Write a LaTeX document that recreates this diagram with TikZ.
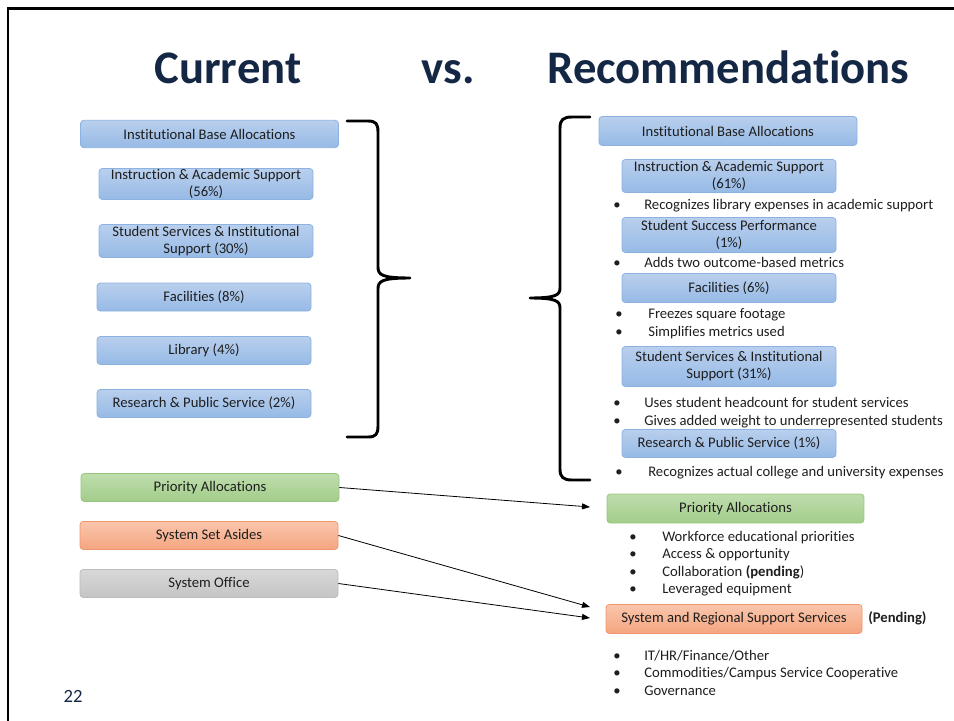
\documentclass[tikz,border=0pt]{standalone}
\usepackage{fontspec}
\setmainfont{Carlito}[Ligatures=NoCommon]
\usetikzlibrary{arrows.meta}

\definecolor{navy}{RGB}{20,39,68}
\definecolor{ink}{RGB}{30,30,30}
\definecolor{bluetop}{RGB}{185,207,237}
\definecolor{bluebot}{RGB}{150,186,230}
\definecolor{blueline}{RGB}{140,178,225}
\definecolor{greentop}{RGB}{190,221,172}
\definecolor{greenbot}{RGB}{163,205,139}
\definecolor{greenline}{RGB}{152,198,128}
\definecolor{orangetop}{RGB}{250,198,172}
\definecolor{orangebot}{RGB}{244,165,128}
\definecolor{orangeline}{RGB}{240,150,108}
\definecolor{greytop}{RGB}{216,216,216}
\definecolor{greybot}{RGB}{196,196,196}
\definecolor{greyline}{RGB}{188,188,188}

\tikzset{
  box/.style={rounded corners=2.5pt, draw=#1line, line width=0.6pt,
    top color=#1top, bottom color=#1bot, inner sep=0pt, align=center,
    text=ink, font=\fontsize{11}{12.8}\selectfont},
  widebox/.style={box=#1, minimum width=193.5pt, minimum height=21pt},
  smallbox/.style={box=blue, minimum width=160.5pt, minimum height=21pt},
  bracket/.style={line width=2.2pt, line cap=round, line join=round},
  bullettext/.style={anchor=base west, inner sep=0pt, text=ink, font=\fontsize{11}{13}\selectfont},
  feed/.style={line width=0.6pt, -{Triangle[length=6pt,width=4.5pt]}}
}

\begin{document}
\begin{tikzpicture}[x=0.75pt,y=-0.75pt]
  \useasboundingbox (0,0) rectangle (954,721);
  % frame of the slide
  \draw [line width=2.2pt] (8,721) -- (8,8.5) -- (954,8.5);

  % heading
  \node (cur) at (228,83) [anchor=base, text=navy, font=\fontsize{35}{40}\bfseries\selectfont] {Current};
  \node (vs) at (448,83) [anchor=base, text=navy, font=\fontsize{35}{40}\bfseries\selectfont] {vs.};
  \node (rec) at (728.5,83) [anchor=base, text=navy, font=\fontsize{35}{40}\bfseries\selectfont] {Recommendations};

  % current model
  \node (lbase) at (209.5,134) [widebox=blue, minimum height=20.5pt] {Institutional Base Allocations};
  \node (linstr) at (206,184) [smallbox, minimum height=23.25pt] {Instruction \& Academic Support\\(56\%)};
  \node (lstud) at (206,241) [smallbox, minimum height=24.75pt] {Student Services \& Institutional\\Support (30\%)};
  \node (lfac) at (204,297) [smallbox] {Facilities (8\%)};
  \node (llib) at (204,350.5) [smallbox] {Library (4\%)};
  \node (lres) at (204,403.5) [smallbox] {Research \& Public Service (2\%)};

  \node (lprio) at (210,487.5) [widebox=green] {Priority Allocations};
  \node (lset) at (209,535.5) [widebox=orange] {System Set Asides};
  \node (loff) at (209,583.5) [widebox=grey] {System Office};

  \draw [bracket] (347,121) -- (368,121) .. controls (376,121) and (378,124) .. (378,132)
    -- (378,267) .. controls (378,275) and (382,278) .. (410,278)
    .. controls (382,278) and (378,281) .. (378,289)
    -- (378,426) .. controls (378,434) and (376,437) .. (368,437) -- (347,437);

  % recommended model
  \node (rbase) at (728,131) [widebox=blue, minimum height=21.75pt] {Institutional Base Allocations};
  \node (rinstr) at (729,176) [smallbox, minimum height=24.75pt] {Instruction \& Academic Support\\(61\%)};
  \node (rsucc) at (729,235) [smallbox, minimum height=26.25pt] {Student Success Performance\\(1\%)};
  \node (rfac) at (729,288) [smallbox, minimum height=21.75pt] {Facilities (6\%)};
  \node (rstud) at (729,366.5) [smallbox, minimum height=30pt] {Student Services \& Institutional\\Support (31\%)};
  \node (rres) at (729,443.5) [smallbox] {Research \& Public Service (1\%)};

  \node (rprio) at (735.5,508.5) [widebox=green, minimum width=192.75pt, minimum height=21.75pt] {Priority Allocations};
  \node (rsys) at (734,619) [widebox=orange, minimum width=192pt, minimum height=21.75pt] {System and Regional Support Services};
  \node (pend) at (868,622.5) [bullettext, font=\fontsize{11}{13}\bfseries\selectfont] {(Pending)};

  \draw [bracket] (590,117) -- (572,117) .. controls (563,117) and (560,120) .. (560,128)
    -- (560,288) .. controls (560,295) and (556,298) .. (530,298)
    .. controls (556,298) and (560,301) .. (560,308)
    -- (560,469) .. controls (560,477) and (563,480) .. (572,480) -- (590,480);

  % notes under the boxes
  \foreach \xb/\xt/\y/\txt in {617/644/209/{Recognizes library expenses in academic support},
      617/644/267/{Adds two outcome-based metrics},
      619/648/318/{Freezes square footage},
      619/648/336/{Simplifies metrics used},
      617/644/407/{Uses student headcount for student services},
      617/644/425/{Gives added weight to underrepresented students},
      619/648/476/{Recognizes actual college and university expenses},
      633/662/541/{Workforce educational priorities},
      633/662/558/{Access \& opportunity},
      633/662/576/{Collaboration \textbf{(pending})},
      633/662/593/{Leveraged equipment},
      617/644/660/{IT/HR/Finance/Other},
      617/644/677/{Commodities/Campus Service Cooperative},
      617/644/695/{Governance}}
  {
    \node at (\xb,\y) [bullettext, anchor=base] {\textbullet};
    \node at (\xt,\y) [bullettext] {\txt};
  }

  % where the allocations go
  \coordinate (tprio) at (590,507);
  \coordinate (tset) at (590,607);
  \coordinate (toff) at (590,618);
  \draw [feed] (lprio.east) -- (tprio);
  \draw [feed] (lset.east) -- (tset);
  \draw [feed] (loff.east) -- (toff);

  \node (page) at (73,702) [anchor=base, text=navy, font=\fontsize{14}{16}\selectfont] {22};
\end{tikzpicture}
\end{document}
